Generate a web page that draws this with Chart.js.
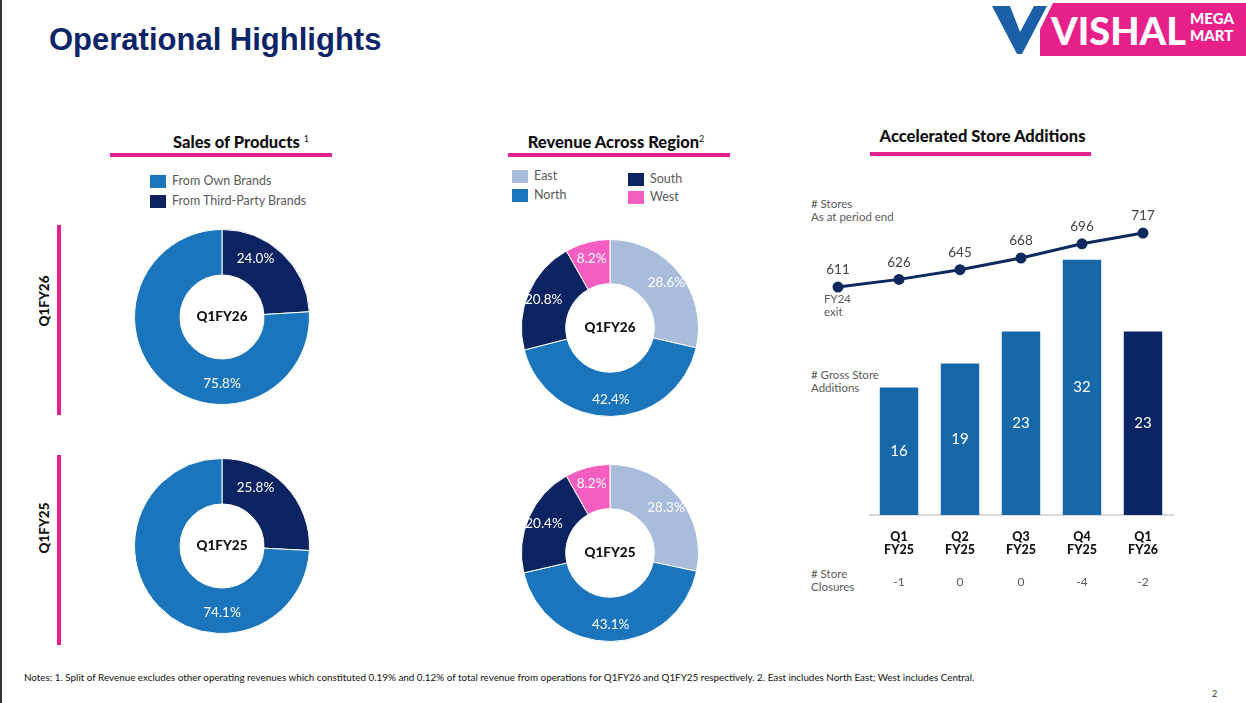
<!DOCTYPE html>
<html lang="en">
<head>
<meta charset="UTF-8">
<title>Operational Highlights</title>
<script src="https://cdn.jsdelivr.net/npm/chart.js@4.4.1/dist/chart.umd.min.js"></script>
<style>
  body { margin: 0; background: #fff; font-family: Lato, "Open Sans", sans-serif; }
  #page { position: relative; width: 1246px; height: 703px; overflow: hidden; }
  .abs { position: absolute; }
  h1 { position: absolute; left: 49px; top: 25px; margin: 0; font: bold 31px/30px "Liberation Sans", Arial, sans-serif; color: #0c2468; }
  .sec { position: absolute; font-weight: 900; font-size: 16.5px; color: #111; text-align: center; white-space: nowrap; }
  .sec sup { font-weight: normal; font-size: 9px; }
  .bar { position: absolute; background: #e3208c; }
  .lg { position: absolute; font-size: 12.5px; color: #5a5a5a; white-space: nowrap; }
  .lg i { position: absolute; left: 0; top: 0; width: 16px; height: 13px; }
  .lg span { position: absolute; left: 22px; top: -2px; }
  .note { position: absolute; font-size: 11.5px; color: #5a5a5a; line-height: 13px; white-space: nowrap; }
  .vlab { position: absolute; font-weight: 900; font-size: 13.5px; color: #111; transform: rotate(-90deg); transform-origin: center; width: 70px; text-align: center; }
  canvas { position: absolute; }
</style>
</head>
<body>
<div id="page">
  <div class="abs" style="left:0;top:0;width:2px;height:703px;background:#333"></div>
  <h1>Operational Highlights</h1>

  <svg class="abs" style="left:985px;top:0" width="261" height="60">
    <rect x="55" y="3" width="206" height="53" fill="#e8208a"/>
    <polygon points="3,3 27,3 35,26 45,3 68,3 41,58 29,58" fill="#fff"/>
    <polygon points="7,6 25,6 35,32 49,6 62,6 37,54 32,54" fill="#1b5fa8"/>
    <text x="66" y="45" font-family="Lato, sans-serif" font-weight="900" font-size="38" fill="#fff">VISHAL</text>
    <text x="205" y="24" font-family="Lato, sans-serif" font-weight="900" font-size="15" fill="#fff">MEGA</text>
    <text x="205" y="41" font-family="Lato, sans-serif" font-weight="900" font-size="15" fill="#fff">MART</text>
  </svg>

  <div class="sec" style="left:130px;top:132px;width:222px">Sales of Products <sup>1</sup></div>
  <div class="bar" style="left:110px;top:153px;width:222px;height:4px"></div>
  <div class="sec" style="left:505px;top:132px;width:222px">Revenue Across Region<sup>2</sup></div>
  <div class="bar" style="left:508px;top:153px;width:222px;height:4px"></div>
  <div class="sec" style="left:872px;top:126px;width:221px">Accelerated Store Additions</div>
  <div class="bar" style="left:870px;top:152px;width:221px;height:4px"></div>

  <div class="lg" style="left:150px;top:175px"><i style="background:#1a75bc"></i><span>From Own Brands</span></div>
  <div class="lg" style="left:150px;top:195px"><i style="background:#0b2461"></i><span>From Third-Party Brands</span></div>
  <div class="lg" style="left:512px;top:170px"><i style="background:#a9bcdb"></i><span>East</span></div>
  <div class="lg" style="left:512px;top:189px"><i style="background:#1a75bc"></i><span>North</span></div>
  <div class="lg" style="left:628px;top:173px"><i style="background:#0b2461"></i><span>South</span></div>
  <div class="lg" style="left:628px;top:191px"><i style="background:#f45ec0"></i><span>West</span></div>

  <div class="bar" style="left:57px;top:225px;width:4px;height:190px"></div>
  <div class="bar" style="left:57px;top:455px;width:4px;height:190px"></div>
  <div class="vlab" style="left:9px;top:293px">Q1FY26</div>
  <div class="vlab" style="left:9px;top:520px">Q1FY25</div>

  <canvas id="salesA" width="176" height="176" style="left:134px;top:229px"></canvas>
  <canvas id="salesB" width="176" height="176" style="left:134px;top:458px"></canvas>
  <canvas id="regionA" width="178" height="178" style="left:521px;top:239px"></canvas>
  <canvas id="regionB" width="178" height="178" style="left:521px;top:464px"></canvas>

  <div class="note" style="left:811px;top:197px"># Stores<br>As at period end</div>
  <div class="note" style="left:811px;top:368px"># Gross Store<br>Additions</div>
  <div class="note" style="left:811px;top:567px"># Store<br>Closures</div>
  <canvas id="stores" width="440" height="440" style="left:780px;top:170px"></canvas>

  <div class="abs" style="left:24px;top:671px;font-size:9.85px;color:#111;white-space:nowrap">Notes: 1. Split of Revenue excludes other operating revenues which constituted 0.19% and 0.12% of total revenue from operations for Q1FY26 and Q1FY25 respectively. 2. East includes North East; West includes Central.</div>
  <div class="abs" style="left:1212px;top:688px;font-size:9px;color:#333">2</div>
</div>

<script>
// sales split (third-party first, clockwise from top)
const salesLabels = ['From Third-Party Brands', 'From Own Brands'];
const salesQ1FY26 = [24.0, 75.8];
const salesQ1FY25 = [25.8, 74.1];

// revenue by region
const regionLabels = ['East', 'North', 'South', 'West'];
const regionQ1FY26 = [28.6, 42.4, 20.8, 8.2];
const regionQ1FY25 = [28.3, 43.1, 20.4, 8.2];

// store additions
const periods = ['FY24 exit', 'Q1 FY25', 'Q2 FY25', 'Q3 FY25', 'Q4 FY25', 'Q1 FY26'];
const storeCount = [611, 626, 645, 668, 696, 717];
const grossAdditions = [null, 16, 19, 23, 32, 23];
const storeClosures = [null, -1, 0, 0, -4, -2];

const FONT = 'Lato, "Open Sans", sans-serif';
const navy = '#0b2461', blue = '#1a75bc';

// percent labels + centre label for the doughnuts
const donutText = {
  id: 'donutText',
  afterDatasetsDraw(chart, args, opts) {
    const ctx = chart.ctx;
    const meta = chart.getDatasetMeta(0);
    const vals = chart.data.datasets[0].data;
    ctx.save();
    ctx.textAlign = 'center';
    ctx.textBaseline = 'middle';
    let cx = 0, cy = 0;
    meta.data.forEach((arc, i) => {
      const p = arc.getProps(['startAngle', 'endAngle', 'innerRadius', 'outerRadius', 'x', 'y'], true);
      cx = p.x; cy = p.y;
      const a = opts.angles ? (opts.angles[i] - 90) * Math.PI / 180 : (p.startAngle + p.endAngle) / 2;
      const r = p.innerRadius + opts.radial * (p.outerRadius - p.innerRadius);
      ctx.font = '13.5px ' + FONT;
      ctx.fillStyle = '#fff';
      ctx.fillText(vals[i].toFixed(1) + '%', cx + r * Math.cos(a), cy + r * Math.sin(a));
    });
    ctx.font = '900 13.5px ' + FONT;
    ctx.fillStyle = '#111';
    ctx.fillText(opts.center, cx, cy);
    ctx.restore();
  }
};

function donut(id, labels, values, colors, center, cutout, radial, angles) {
  new Chart(document.getElementById(id), {
    type: 'doughnut',
    data: {
      labels: labels,
      datasets: [{ data: values, backgroundColor: colors, borderColor: '#fff', borderWidth: 1, hoverOffset: 0 }]
    },
    options: {
      responsive: false,
      animation: false,
      events: [],
      cutout: cutout,
      plugins: {
        legend: { display: false },
        tooltip: { enabled: false },
        donutText: { center: center, radial: radial, angles: angles }
      }
    },
    plugins: [donutText]
  });
}

donut('salesA', salesLabels, salesQ1FY26, [navy, blue], 'Q1FY26', '48%', 0.55, [30, 180]);
donut('salesB', salesLabels, salesQ1FY25, [navy, blue], 'Q1FY25', '48%', 0.55, [30, 180]);
const regionColors = ['#a9bcdb', blue, navy, '#f45ec0'];
donut('regionA', regionLabels, regionQ1FY26, regionColors, 'Q1FY26', '50%', 0.63);
donut('regionB', regionLabels, regionQ1FY25, regionColors, 'Q1FY25', '50%', 0.63);

// text around the combo chart
const storeText = {
  id: 'storeText',
  beforeDatasetsDraw(chart) {
    const ctx = chart.ctx, x = chart.scales.x, y = chart.scales.y;
    const y0 = y.getPixelForValue(0);
    ctx.save();
    ctx.strokeStyle = '#cfcfcf';
    ctx.lineWidth = 1.5;
    ctx.beginPath();
    ctx.moveTo(x.getPixelForValue(1) - 30, y0);
    ctx.lineTo(x.getPixelForValue(periods.length - 1) + 31, y0);
    ctx.stroke();
    ctx.restore();
  },
  afterDatasetsDraw(chart) {
    const ctx = chart.ctx, x = chart.scales.x;
    const bars = chart.getDatasetMeta(0).data;
    const pts = chart.getDatasetMeta(1).data;
    ctx.save();
    ctx.textAlign = 'center';
    ctx.textBaseline = 'middle';
    bars.forEach((b, i) => {
      if (grossAdditions[i] == null) return;
      ctx.font = '15px ' + FONT;
      ctx.fillStyle = '#fff';
      ctx.fillText(grossAdditions[i], b.x, (b.y + b.base) / 2);
    });
    pts.forEach((p, i) => {
      ctx.font = '13.5px ' + FONT;
      ctx.fillStyle = '#444';
      ctx.fillText(storeCount[i], p.x, p.y - 17);
    });
    const y0 = chart.scales.y.getPixelForValue(0);
    periods.forEach((lab, i) => {
      const parts = lab.split(' ');
      const px = x.getPixelForValue(i);
      if (i === 0) {
        ctx.textAlign = 'left';
        ctx.font = '11.5px ' + FONT;
        ctx.fillStyle = '#5a5a5a';
        ctx.fillText(parts[0], px - 14, pts[0].y + 12);
        ctx.fillText(parts[1], px - 14, pts[0].y + 25);
        ctx.textAlign = 'center';
        return;
      }
      ctx.font = '900 12.5px ' + FONT;
      ctx.fillStyle = '#111';
      ctx.fillText(parts[0], px, y0 + 22);
      ctx.fillText(parts[1], px, y0 + 35);
      ctx.font = '12px ' + FONT;
      ctx.fillStyle = '#5a5a5a';
      ctx.fillText(storeClosures[i], px, y0 + 67);
    });
    ctx.restore();
  }
};

new Chart(document.getElementById('stores'), {
  type: 'bar',
  data: {
    labels: periods,
    datasets: [
      {
        type: 'bar',
        label: '# Gross Store Additions',
        data: grossAdditions,
        backgroundColor: ['#1668a8', '#1668a8', '#1668a8', '#1668a8', '#1668a8', '#0a2563'],
        categoryPercentage: 1,
        barPercentage: 0.63,
        yAxisID: 'y',
        order: 2
      },
      {
        type: 'line',
        label: '# Stores',
        data: storeCount,
        borderColor: '#0d2a5e',
        backgroundColor: '#0d2a5e',
        borderWidth: 3,
        pointRadius: 4,
        tension: 0,
        yAxisID: 'y2',
        order: 1
      }
    ]
  },
  options: {
    responsive: false,
    animation: false,
    events: [],
    layout: { padding: { left: 27.5, right: 46.5, top: 30, bottom: 95 } },
    scales: {
      x: { display: false, offset: true },
      y: { display: false, min: 0, max: 39.5 },
      y2: { display: false, min: 163, max: 782 }
    },
    plugins: { legend: { display: false }, tooltip: { enabled: false } }
  },
  plugins: [storeText]
});
</script>
</body>
</html>
